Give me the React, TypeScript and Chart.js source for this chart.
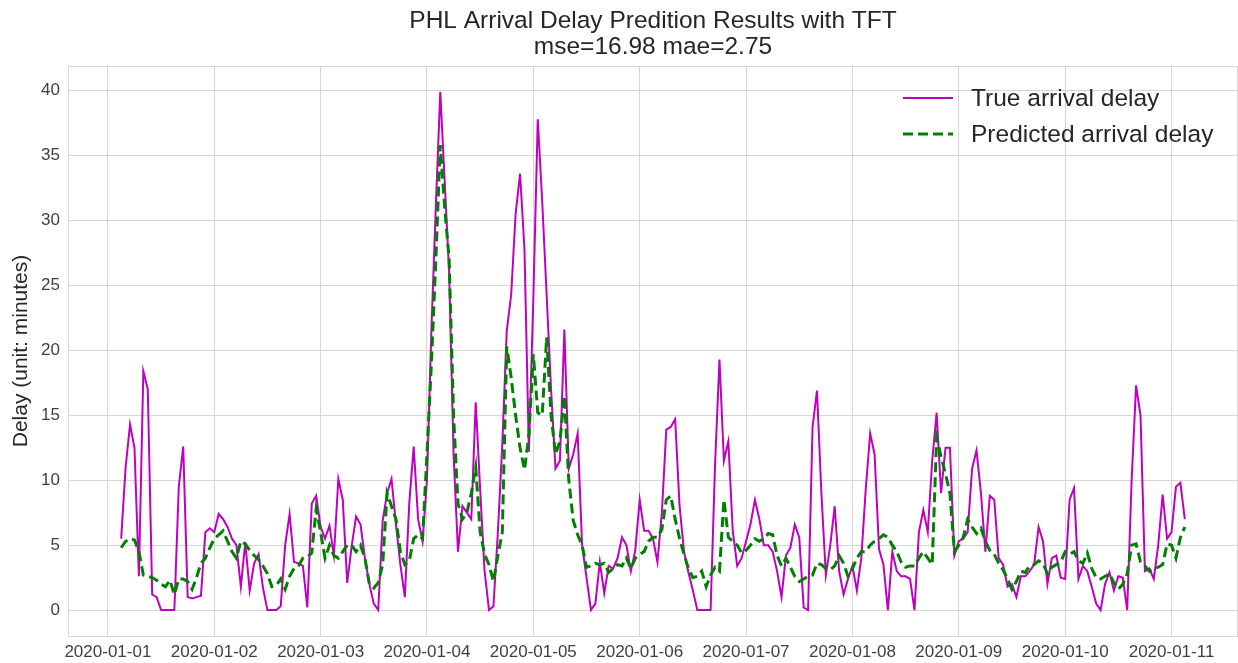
import React, { useEffect, useRef } from 'react';
import { Chart, registerables } from 'chart.js';

Chart.register(...registerables);

// hours since 2020-01-01 00:00 of the first sample (hourly samples)
const START_HOUR = 3;

const dateLabels = [
  '2020-01-01', '2020-01-02', '2020-01-03', '2020-01-04', '2020-01-05', '2020-01-06',
  '2020-01-07', '2020-01-08', '2020-01-09', '2020-01-10', '2020-01-11',
];
const tickHours = [0, 24, 48, 72, 96, 120, 144, 168, 192, 216, 240];
const yTicks = [0, 5, 10, 15, 20, 25, 30, 35, 40];

const trueDelay = [
  5.5, 11.0, 14.3, 12.5, 2.6, 18.4, 17.0, 1.2, 1.0, 0, 0, 0, 0, 9.5, 12.6, 1.0, 0.9, 1.0, 1.1, 6.0, 6.3,
  6.0, 7.4, 7.0, 6.4, 5.5, 5.0, 1.8, 5.2, 1.5, 3.6, 4.3, 1.7, 0, 0, 0, 0.3, 5.0, 7.4, 3.7, 3.6, 3.4, 0.2, 8.2, 8.8,
  6.4, 5.5, 6.5, 4.2, 10.1, 8.5, 2.1, 4.9, 7.2, 6.6, 4.0, 2.0, 0.5, 0, 6.9, 9.0, 10.1, 6.6, 3.5, 1.0, 8.2, 12.6, 7.0, 5.3,
  10.0, 21.6, 31.1, 39.9, 33.0, 26.0, 12.0, 4.5, 8.0, 7.5, 7.0, 16.0, 9.3, 3.0, 0, 0.3, 6.0, 12.8, 21.5, 24.3, 30.5, 33.6, 27.8, 12.2,
  24.0, 37.8, 31.5, 24.3, 17.0, 10.9, 11.5, 21.6, 10.9, 12.0, 13.6, 5.0, 2.5, 0, 0.5, 3.7, 1.3, 3.4, 3.2, 4.0, 5.6, 5.0, 3.0, 4.6,
  8.5, 6.1, 6.1, 5.5, 3.7, 7.5, 13.9, 14.1, 14.7, 8.0, 4.5, 2.9, 1.5, 0, 0, 0, 0, 11.2, 19.3, 11.5, 13.0, 6.1, 3.4, 4.0,
  5.3, 6.6, 8.5, 7.0, 5.0, 5.0, 4.5, 3.0, 1.0, 4.2, 4.8, 6.6, 5.6, 0.2, 0, 14.1, 16.9, 9.0, 2.7, 5.0, 8.0, 3.0, 1.2, 2.4,
  3.4, 1.5, 4.0, 9.3, 13.6, 12.0, 4.7, 3.5, 0, 4.5, 3.0, 2.6, 2.6, 2.4, 0, 6.0, 7.7, 6.0, 11.5, 15.2, 9.0, 12.5, 12.5, 4.2,
  5.3, 5.5, 6.0, 10.9, 12.3, 9.0, 4.5, 8.8, 8.5, 4.0, 3.5, 1.8, 2.0, 1.0, 2.6, 2.6, 3.0, 3.5, 6.4, 5.3, 2.0, 4.0, 4.2, 2.5,
  2.4, 8.5, 9.4, 2.4, 3.4, 3.0, 1.8, 0.5, 0, 2.0, 2.9, 1.5, 2.6, 2.5, 0, 10.0, 17.3, 15.0, 3.0, 3.2, 2.4, 5.0, 8.9, 5.5,
  6.0, 9.5, 9.8, 7.0,
];

const predictedDelay = [
  4.8, 5.3, 5.5, 5.4, 4.5, 2.7, 2.6, 2.5, 2.3, 2.0, 1.8, 2.3, 1.2, 2.4, 2.4, 2.2, 1.6, 2.5, 3.6, 4.0, 4.8,
  5.5, 5.8, 6.1, 5.3, 4.5, 4.0, 5.3, 5.1, 4.6, 4.2, 3.9, 3.4, 2.8, 1.8, 1.9, 2.4, 1.6, 2.6, 3.2, 3.4, 4.0, 4.1, 4.4, 7.8,
  6.0, 4.0, 5.0, 4.2, 4.0, 4.5, 5.0, 5.0, 4.5, 5.0, 4.0, 2.0, 1.7, 2.1, 3.5, 9.0, 8.0, 7.0, 4.5, 3.5, 3.8, 5.5, 5.8, 5.5,
  12.0, 19.0, 27.0, 35.8, 31.0, 27.0, 15.0, 8.2, 7.0, 7.5, 9.0, 11.0, 6.0, 4.3, 3.5, 2.2, 4.2, 6.0, 20.3, 17.9, 15.0, 12.5, 10.8, 13.5,
  19.7, 15.2, 15.0, 21.0, 15.0, 12.0, 13.0, 16.5, 10.0, 6.9, 5.8, 5.0, 3.3, 3.4, 3.6, 3.5, 3.6, 2.9, 3.2, 3.5, 3.4, 4.0, 3.2, 4.0,
  4.3, 4.5, 5.3, 5.6, 5.6, 6.2, 8.5, 8.8, 7.0, 5.5, 4.3, 3.2, 2.5, 2.6, 3.0, 1.8, 2.7, 3.3, 3.0, 8.5, 5.6, 5.3, 5.0, 4.4,
  4.6, 5.0, 5.5, 5.3, 5.5, 5.9, 5.8, 4.2, 3.4, 4.0, 3.3, 2.6, 2.2, 2.4, 2.6, 2.7, 3.6, 3.5, 3.2, 3.1, 3.4, 4.2, 3.6, 2.6,
  3.2, 4.0, 4.5, 4.5, 5.0, 5.3, 5.5, 5.8, 5.6, 5.0, 4.5, 3.7, 3.3, 3.4, 3.4, 4.0, 4.5, 4.0, 3.5, 13.3, 11.8, 10.5, 9.0, 4.5,
  5.0, 5.6, 7.0, 6.4, 5.9, 6.3, 5.3, 4.6, 4.3, 3.6, 3.1, 2.4, 1.6, 2.2, 3.0, 2.9, 3.4, 3.5, 3.8, 3.6, 2.8, 3.3, 3.5, 3.7,
  4.5, 4.3, 4.5, 3.8, 3.6, 4.4, 3.2, 2.5, 2.4, 2.6, 2.8, 2.1, 1.6, 2.0, 2.8, 5.0, 5.1, 3.7, 3.4, 3.0, 3.2, 3.3, 3.5, 5.1,
  5.0, 4.0, 5.6, 6.4,
];

const titleLines = ['PHL Arrival Delay Predition Results with TFT', 'mse=16.98 mae=2.75'];
const yAxisTitle = 'Delay (unit: minutes)';
const seriesNames = ['True arrival delay', 'Predicted arrival delay'];

const FONT = '"Liberation Sans", Arial, Helvetica, sans-serif';
const TEXT = '#262626';
const TICK = '#3f3f3f';
const GRID = '#d6d6d6';
const MAGENTA = '#bf00bf';
const GREEN = '#008000';

const decorPlugin = {
  id: 'decor',
  beforeDatasetsDraw(chart: any) {
    const { ctx, chartArea } = chart;
    ctx.save();
    ctx.strokeStyle = GRID;
    ctx.lineWidth = 1;
    ctx.strokeRect(chartArea.left + 0.5, chartArea.top + 0.5, chartArea.right - chartArea.left - 1, chartArea.bottom - chartArea.top);
    ctx.restore();
  },
  afterDraw(chart: any) {
    const { ctx, chartArea } = chart;
    const cx = (chartArea.left + chartArea.right) / 2;
    ctx.save();
    ctx.fillStyle = TEXT;
    ctx.textAlign = 'center';
    ctx.textBaseline = 'middle';
    ctx.font = `24.5px ${FONT}`;
    ctx.fillText(titleLines[0], cx, 21);
    ctx.fillText(titleLines[1], cx, 47);

    ctx.save();
    ctx.translate(21, (chartArea.top + chartArea.bottom) / 2);
    ctx.rotate(-Math.PI / 2);
    ctx.font = `21px ${FONT}`;
    ctx.fillText(yAxisTitle, 0, 0);
    ctx.restore();

    // legend
    ctx.textAlign = 'left';
    ctx.font = `24.5px ${FONT}`;
    ctx.lineCap = 'butt';
    ctx.strokeStyle = MAGENTA;
    ctx.lineWidth = 2;
    ctx.beginPath();
    ctx.moveTo(903, 98);
    ctx.lineTo(953, 98);
    ctx.stroke();
    ctx.fillText(seriesNames[0], 971, 99);

    ctx.strokeStyle = GREEN;
    ctx.lineWidth = 3;
    ctx.setLineDash([10, 5]);
    ctx.beginPath();
    ctx.moveTo(903, 134);
    ctx.lineTo(953, 134);
    ctx.stroke();
    ctx.setLineDash([]);
    ctx.fillText(seriesNames[1], 971, 135);
    ctx.restore();
  },
};

export default function App() {
  const canvasRef = useRef<HTMLCanvasElement | null>(null);

  useEffect(() => {
    const canvas = canvasRef.current;
    if (!canvas) return;
    const chart = new Chart(canvas, {
      type: 'line',
      data: {
        datasets: [
          {
            label: seriesNames[0],
            data: trueDelay.map((v, i) => ({ x: START_HOUR + i, y: v })),
            borderColor: MAGENTA,
            borderWidth: 2,
            pointRadius: 0,
            tension: 0,
            fill: false,
            order: 2,
          },
          {
            label: seriesNames[1],
            data: predictedDelay.map((v, i) => ({ x: START_HOUR + i, y: v })),
            borderColor: GREEN,
            borderWidth: 3,
            borderDash: [10, 5],
            pointRadius: 0,
            tension: 0,
            fill: false,
            order: 1,
          },
        ],
      },
      options: {
        animation: false,
        responsive: false,
        devicePixelRatio: 1,
        layout: { padding: { top: 66, left: 0, right: 0, bottom: 0 } },
        plugins: {
          legend: { display: false },
          title: { display: false },
          tooltip: { enabled: false },
        },
        scales: {
          x: {
            type: 'linear',
            min: START_HOUR - 12,
            max: START_HOUR + trueDelay.length - 1 + 12,
            afterBuildTicks: (scale: any) => {
              scale.ticks = tickHours.map((v) => ({ value: v }));
            },
            afterFit: (scale: any) => {
              scale.height = 27;
            },
            ticks: {
              autoSkip: false,
              maxRotation: 0,
              padding: 6,
              color: TICK,
              font: { family: FONT, size: 17 },
              callback: (v: any) => {
                const idx = tickHours.indexOf(Number(v));
                return idx >= 0 ? dateLabels[idx] : '';
              },
            },
            grid: { color: GRID, lineWidth: 1, drawTicks: false },
            border: { display: false },
          },
          y: {
            type: 'linear',
            min: -1.995,
            max: 41.895,
            afterBuildTicks: (scale: any) => {
              scale.ticks = yTicks.map((v) => ({ value: v }));
            },
            afterFit: (scale: any) => {
              scale.width = 68;
            },
            ticks: {
              padding: 8,
              color: TICK,
              font: { family: FONT, size: 17 },
            },
            grid: { color: GRID, lineWidth: 1, drawTicks: false },
            border: { display: false },
          },
        },
      },
      plugins: [decorPlugin],
    });
    return () => chart.destroy();
  }, []);

  return (
    <div style={{ position: 'fixed', left: 0, top: 0, width: 1238, height: 663, background: '#fff' }}>
      <canvas ref={canvasRef} width={1238} height={663} style={{ display: 'block', width: 1238, height: 663 }} />
    </div>
  );
}
